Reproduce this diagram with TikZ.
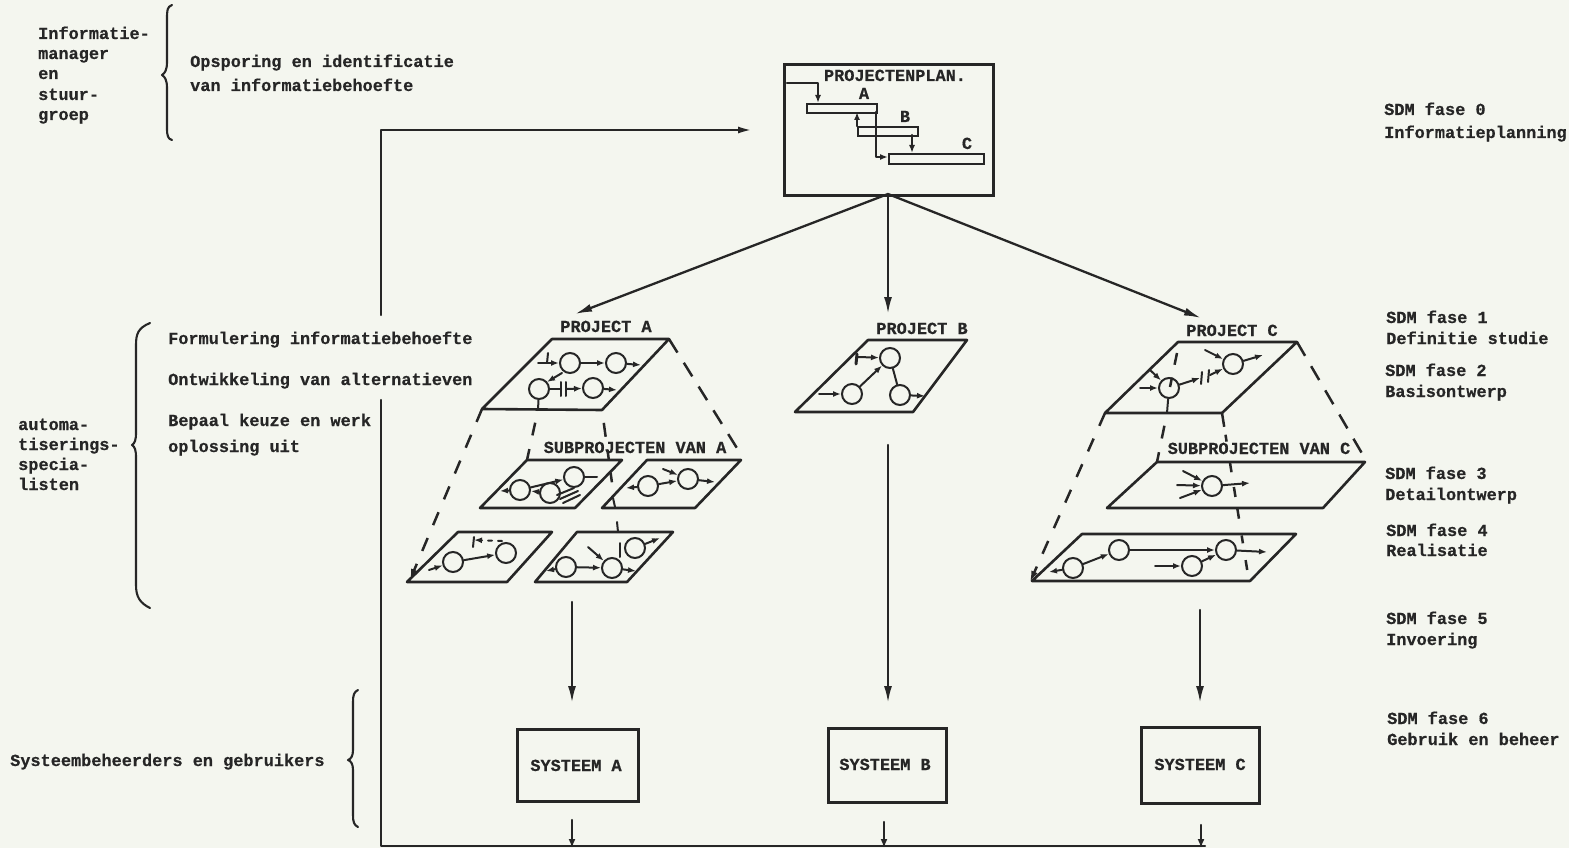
\documentclass[tikz,border=0pt]{standalone}
\usepackage{fontspec}
\setmainfont{Liberation Mono}[BoldFeatures={FakeBold=0.5}]
\usetikzlibrary{arrows.meta}
\definecolor{paper}{HTML}{F4F6EF}
\definecolor{ink}{HTML}{262626}
\tikzset{
  txt/.style={anchor=west,inner sep=0pt,text height=15pt,text depth=3pt,text=ink,font=\fontsize{16.9}{20}\selectfont\bfseries},
  ctxt/.style={txt,anchor=center},
  ln/.style={draw=ink,line width=2.3pt,line cap=round,line join=round},
  thick box/.style={draw=ink,line width=2.8pt,inner sep=0pt,anchor=north west},
  bigarrow/.style={ln,-{Latex[length=17pt,width=8pt]}},
  smallarrow/.style={draw=ink,line width=2pt,line cap=round,-{Latex[length=8pt,width=6pt]}},
  planarrow/.style={draw=ink,line width=2.4pt,line cap=round,line join=round,-{Latex[length=8pt,width=6pt]}},
  plainl/.style={draw=ink,line width=2pt,line cap=round},
  plane/.style={draw=ink,line width=2.6pt,line join=round},
  dsh/.style={draw=ink,line width=2.5pt,dash pattern=on 16pt off 12pt},
  dshleft/.style={draw=ink,line width=2.5pt,dash pattern=on 14pt off 14pt,-{Latex[length=11pt,width=7pt]}},
  proc/.style={circle,draw=ink,line width=2pt,minimum size=20pt,inner sep=0pt,fill=none},
  brace/.style={draw=ink,line width=2.1pt,line cap=round,line join=round},
  innerleft/.style={draw=ink,line width=2.5pt,dash pattern=on 0pt off 13pt on 13pt off 14pt on 11pt off 100pt},
  innerrightA/.style={draw=ink,line width=2.5pt,dash pattern=on 0pt off 13pt on 14pt off 13pt on 10pt off 13pt on 10pt off 100pt},
  innerrightC/.style={draw=ink,line width=2.5pt,dash pattern=on 14pt off 8pt on 7pt off 21pt on 10pt off 15pt on 10pt off 12pt on 10pt off 17pt on 8pt off 17pt on 10pt off 100pt},
}
\begin{document}
\begin{tikzpicture}[x=1pt,y=-1pt]
\path[fill=paper,use as bounding box] (0,0) rectangle (1569,848);

% ---- left texts
\node[txt] (t1) at (38,33) {Informatie-};
\node[txt] (t2) at (38,53) {manager};
\node[txt] (t3) at (38,73) {en};
\node[txt] (t4) at (38,94) {stuur-};
\node[txt] (t5) at (38,114) {groep};
\node[txt] (t6) at (190,61) {Opsporing en identificatie};
\node[txt] (t7) at (190,85) {van informatiebehoefte};
\node[txt] (t8) at (168,338) {Formulering informatiebehoefte};
\node[txt] (t9) at (168,379) {Ontwikkeling van alternatieven};
\node[txt] (t10) at (168,420) {Bepaal keuze en werk};
\node[txt] (t11) at (168,446) {oplossing uit};
\node[txt] (t12) at (18,424) {automa-};
\node[txt] (t13) at (18,444) {tiserings-};
\node[txt] (t14) at (18,464) {specia-};
\node[txt] (t15) at (18,484) {listen};
\node[txt] (t16) at (10,760) {Systeembeheerders en gebruikers};

% ---- right texts
\node[txt] (r1) at (1384,109) {SDM fase 0};
\node[txt] (r2) at (1384,132) {Informatieplanning};
\node[txt] (r3) at (1386,317) {SDM fase 1};
\node[txt] (r4) at (1386,338) {Definitie studie};
\node[txt] (r5) at (1385,370) {SDM fase 2};
\node[txt] (r6) at (1385,391) {Basisontwerp};
\node[txt] (r7) at (1385,473) {SDM fase 3};
\node[txt] (r8) at (1385,494) {Detailontwerp};
\node[txt] (r9) at (1386,530) {SDM fase 4};
\node[txt] (r10) at (1386,550) {Realisatie};
\node[txt] (r11) at (1386,618) {SDM fase 5};
\node[txt] (r12) at (1386,639) {Invoering};
\node[txt] (r13) at (1387,718) {SDM fase 6};
\node[txt] (r14) at (1387,739) {Gebruik en beheer};

% ---- braces
\draw[brace] (172,5) .. controls (167,7) and (167,10) .. (167,20) -- (167,62) .. controls (167,70) and (165,73) .. (162,75) .. controls (165,77) and (167,80) .. (167,88) -- (167,128) .. controls (167,136) and (168,139) .. (172,140);
\draw[brace] (150,323) .. controls (138,328) and (136,334) .. (136,345) -- (136,432) .. controls (136,440) and (135,443) .. (132,445) .. controls (135,447) and (136,450) .. (136,458) -- (136,585) .. controls (136,597) and (140,603) .. (150,608);
\draw[brace] (358,690) .. controls (354,692) and (353,695) .. (353,702) -- (353,750) .. controls (353,756) and (351,759) .. (348,760) .. controls (351,761) and (353,764) .. (353,770) -- (353,815) .. controls (353,822) and (354,825) .. (358,827);

% ---- projectenplan
\node[thick box,minimum width=209pt,minimum height=131pt] (plan) at (783,63) {};
\node[ctxt] (plantitle) at (895,75) {PROJECTENPLAN.};
\node[thick box,line width=2.4pt,minimum width=70pt,minimum height=9pt] (barA) at (806,103) {};
\node[thick box,line width=2.4pt,minimum width=60pt,minimum height=9pt] (barB) at (857,126) {};
\node[thick box,line width=2.4pt,minimum width=95pt,minimum height=10pt] (barC) at (888,153) {};
\node[ctxt] (lA) at (864,93) {A};
\node[ctxt] (lB) at (905,116) {B};
\node[ctxt] (lC) at (967,143) {C};
\coordinate (in0) at (787,83);
\coordinate (in1) at (818,83);
\coordinate (in2) at (818,103);
\draw[planarrow] (in0) -- (in1) -- (in2);
\coordinate (ab0) at (857,126);
\coordinate (ab1) at (857,112);
\draw[planarrow] (ab0) -- (ab1);
\coordinate (bc0) at (912,135);
\coordinate (bc1) at (912,153);
\draw[planarrow] (bc0) -- (bc1);
\coordinate (ac0) at (876,112);
\coordinate (ac1) at (876,157);
\coordinate (ac2) at (888,157);
\draw[planarrow] (ac0) -- (ac1) -- (ac2);

% ---- project arrows from plan
\coordinate (pb) at (888,194);
\coordinate (toA) at (575,314);
\coordinate (toB) at (888,314);
\coordinate (toC) at (1201,318);
\draw[bigarrow] (pb) -- (toA);
\draw[bigarrow] (pb) -- (toB);
\draw[bigarrow] (pb) -- (toC);

% ---- feedback line
\coordinate (fb1) at (752,130);
\coordinate (fb2) at (381,130);
\coordinate (fb3) at (381,315);
\coordinate (fb4) at (381,400);
\coordinate (fb5) at (381,846);
\coordinate (fb6) at (1205,846);
\draw[ln,-{Latex[length=14pt,width=7pt]}] (fb3) -- (fb2) -- (fb1);
\draw[ln] (fb4) -- (fb5) -- (fb6);

% ---- project A
\coordinate (a1) at (552,339); \coordinate (a2) at (669,339);
\coordinate (a3) at (602,410); \coordinate (a4) at (482,409);
\draw[plane] (a1) -- (a2) -- (a3) -- (a4) -- cycle;
\node[ctxt] (tA) at (606,326) {PROJECT A};
\node[proc] (ca1) at (570,363) {};
\node[proc] (ca2) at (616,363) {};
\node[proc] (ca3) at (539,389) {};
\node[proc] (ca4) at (593,388) {};
\coordinate (sa1) at (538,363); \coordinate (sa2) at (641,365);
\coordinate (sa3) at (548,353); \coordinate (sa4) at (547,363);
\coordinate (sa5) at (547,382); \coordinate (sa6) at (562,373);
\coordinate (sa7) at (561,389); \coordinate (sa8) at (567,389);
\coordinate (sa9) at (617,390); \coordinate (sa10) at (538,410);
\coordinate (b1a) at (561,382); \coordinate (b1b) at (561,396);
\coordinate (b2a) at (566,382); \coordinate (b2b) at (566,396);
\draw[smallarrow] (sa1) -- (ca1);
\draw[smallarrow] (ca1) -- (ca2);
\draw[smallarrow] (ca2) -- (sa2);
\draw[plainl] (sa3) -- (sa4);
\draw[smallarrow] (sa6) -- (sa5);
\draw[plainl] (ca3) -- (sa7);
\draw[plainl] (b1a) -- (b1b);
\draw[plainl] (b2a) -- (b2b);
\draw[smallarrow] (sa8) -- (ca4);
\draw[smallarrow] (ca4) -- (sa9);
\draw[plainl] (ca3) -- (sa10);

% ---- sub planes of A
\node[ctxt] (tSA) at (635,447) {SUBPROJECTEN VAN A};
\coordinate (s1a) at (527,460); \coordinate (s1b) at (622,460);
\coordinate (s1c) at (575,508); \coordinate (s1d) at (480,508);
\draw[plane] (s1a) -- (s1b) -- (s1c) -- (s1d) -- cycle;
\coordinate (s2a) at (647,460); \coordinate (s2b) at (741,460);
\coordinate (s2c) at (695,508); \coordinate (s2d) at (602,508);
\draw[plane] (s2a) -- (s2b) -- (s2c) -- (s2d) -- cycle;
\coordinate (s3a) at (458,532); \coordinate (s3b) at (552,532);
\coordinate (s3c) at (507,582); \coordinate (s3d) at (407,582);
\draw[plane] (s3a) -- (s3b) -- (s3c) -- (s3d) -- cycle;
\coordinate (s4a) at (577,532); \coordinate (s4b) at (673,532);
\coordinate (s4c) at (627,582); \coordinate (s4d) at (535,582);
\draw[plane] (s4a) -- (s4b) -- (s4c) -- (s4d) -- cycle;

% sub 1
\node[proc] (c11) at (520,490) {};
\node[proc] (c12) at (550,493) {};
\node[proc] (c13) at (574,477) {};
\coordinate (e11) at (500,491); \coordinate (e13) at (597,477);
\coordinate (e14a) at (560,499); \coordinate (e14b) at (578,491);
\coordinate (e15a) at (563,503); \coordinate (e15b) at (580,495);
\coordinate (e16a) at (557,495); \coordinate (e16b) at (574,488);
\draw[smallarrow] (c11) -- (c13);
\draw[smallarrow] (c11) -- (e11);
\draw[smallarrow] (c12) -- (c11);
\draw[plainl] (c13) -- (e13);
\draw[plainl] (e14a) -- (e14b);
\draw[plainl] (e15a) -- (e15b);
\draw[plainl] (e16a) -- (e16b);

% sub 2
\node[proc] (c21) at (648,486) {};
\node[proc] (c22) at (688,479) {};
\coordinate (e21) at (626,488); \coordinate (e22) at (663,469);
\coordinate (e23) at (715,482);
\draw[smallarrow] (c21) -- (e21);
\draw[smallarrow] (c21) -- (c22);
\draw[smallarrow] (e22) -- (c22);
\draw[smallarrow] (c22) -- (e23);

% sub 3
\node[proc] (c31) at (453,562) {};
\node[proc] (c32) at (506,553) {};
\coordinate (e31) at (429,570); \coordinate (e32) at (502,541);
\coordinate (e33) at (474,540);
\coordinate (e34) at (473,547); \coordinate (e35) at (474,537);
\draw[smallarrow] (e31) -- (c31);
\draw[smallarrow] (c31) -- (c32);
\draw[smallarrow,dash pattern=on 4pt off 6pt] (e32) -- (e33);
\draw[plainl] (e34) -- (e35);

% sub 4
\node[proc] (c41) at (566,567) {};
\node[proc] (c42) at (612,568) {};
\node[proc] (c43) at (635,548) {};
\coordinate (e41) at (546,571); \coordinate (e42) at (588,547);
\coordinate (e43) at (660,538); \coordinate (e44) at (636,571);
\coordinate (e45) at (620,543); \coordinate (e46) at (620,557);
\draw[smallarrow] (c41) -- (e41);
\draw[smallarrow] (c41) -- (c42);
\draw[smallarrow] (e42) -- (c42);
\draw[smallarrow] (c43) -- (e43);
\draw[smallarrow] (c42) -- (e44);
\draw[plainl] (e45) -- (e46);

% dashed guides A
\coordinate (da1) at (410,580);
\coordinate (da2) at (740,453);
\coordinate (da3) at (527,460);
\coordinate (da4) at (612,483);
\coordinate (da5) at (613,498);
\coordinate (da6) at (615,507);
\coordinate (da7) at (617,522);
\coordinate (da8) at (618,532);
\draw[dshleft] (a4) -- (da1);
\draw[dsh] (a2) -- (da2);
\draw[innerleft] (sa10) -- (da3);
\draw[innerrightA] (a3) -- (da4);
\draw[plainl] (da5) -- (da6);
\draw[plainl] (da7) -- (da8);

% ---- project B
\coordinate (b1) at (868,340); \coordinate (b2) at (967,340);
\coordinate (b3) at (913,412); \coordinate (b4) at (795,412);
\draw[plane] (b1) -- (b2) -- (b3) -- (b4) -- cycle;
\node[ctxt] (tB) at (922,328) {PROJECT B};
\node[proc] (cb1) at (890,358) {};
\node[proc] (cb2) at (852,394) {};
\node[proc] (cb3) at (900,395) {};
\coordinate (eb1) at (819,394); \coordinate (eb2) at (925,396);
\coordinate (eb3) at (858,357); \coordinate (eb4) at (857,354);
\coordinate (eb5) at (856,364);
\draw[smallarrow] (eb1) -- (cb2);
\draw[smallarrow] (cb2) -- (cb1);
\draw[plainl] (cb1) -- (cb3);
\draw[smallarrow] (cb3) -- (eb2);
\draw[smallarrow] (eb3) -- (cb1);
\draw[ln,line width=3pt] (eb4) -- (eb5);

% ---- project C
\coordinate (c1) at (1178,342); \coordinate (c2) at (1297,342);
\coordinate (c3) at (1222,413); \coordinate (c4) at (1105,413);
\draw[plane] (c1) -- (c2) -- (c3) -- (c4) -- cycle;
\node[ctxt] (tC) at (1232,330) {PROJECT C};
\node[proc] (cc1) at (1169,388) {};
\node[proc] (cc2) at (1233,364) {};
\coordinate (ec1) at (1140,388); \coordinate (ec2) at (1150,370);
\coordinate (ec3) at (1200,378); \coordinate (ec4) at (1205,350);
\coordinate (ec5) at (1263,355); \coordinate (ec6) at (1210,375);
\coordinate (ec7) at (1202,372); \coordinate (ec8) at (1201,384);
\coordinate (ec9) at (1209,370); \coordinate (ec10) at (1208,382);
\coordinate (ec11) at (1167,413);
\coordinate (ec12) at (1177,353); \coordinate (ec13) at (1170,387);
\draw[smallarrow] (ec1) -- (cc1);
\draw[smallarrow] (ec2) -- (cc1);
\draw[smallarrow] (cc1) -- (ec3);
\draw[plainl] (ec7) -- (ec8);
\draw[plainl] (ec9) -- (ec10);
\draw[smallarrow] (ec6) -- (cc2);
\draw[smallarrow] (ec4) -- (cc2);
\draw[smallarrow] (cc2) -- (ec5);
\draw[plainl] (cc1) -- (ec11);
\draw[dsh,dash pattern=on 12pt off 13pt] (ec12) -- (ec13);

% ---- sub planes of C
\node[ctxt] (tSC) at (1259,448) {SUBPROJECTEN VAN C};
\coordinate (d1a) at (1157,462); \coordinate (d1b) at (1365,462);
\coordinate (d1c) at (1323,508); \coordinate (d1d) at (1107,508);
\draw[plane] (d1a) -- (d1b) -- (d1c) -- (d1d) -- cycle;
\coordinate (d2a) at (1082,534); \coordinate (d2b) at (1296,534);
\coordinate (d2c) at (1250,581); \coordinate (d2d) at (1032,581);
\draw[plane] (d2a) -- (d2b) -- (d2c) -- (d2d) -- cycle;
\node[proc] (cd1) at (1212,486) {};
\coordinate (ed1) at (1183,471); \coordinate (ed2) at (1177,485);
\coordinate (ed3) at (1180,498); \coordinate (ed4) at (1250,483);
\draw[smallarrow] (ed1) -- (cd1);
\draw[smallarrow] (ed2) -- (cd1);
\draw[smallarrow] (ed3) -- (cd1);
\draw[smallarrow] (cd1) -- (ed4);
\node[proc] (ce1) at (1073,568) {};
\node[proc] (ce2) at (1119,550) {};
\node[proc] (ce3) at (1192,566) {};
\node[proc] (ce4) at (1226,550) {};
\coordinate (ee1) at (1049,572); \coordinate (ee2) at (1155,566);
\coordinate (ee3) at (1267,552);
\draw[smallarrow] (ce1) -- (ee1);
\draw[smallarrow] (ce1) -- (ce2);
\draw[smallarrow] (ce2) -- (ce4);
\draw[smallarrow] (ee2) -- (ce3);
\draw[smallarrow] (ce3) -- (ce4);
\draw[smallarrow] (ce4) -- (ee3);

% dashed guides C
\coordinate (dc1) at (1030,582);
\coordinate (dc2) at (1367,462);
\coordinate (dc3) at (1157,462);
\coordinate (dc4) at (1248,575);
\draw[dshleft] (c4) -- (dc1);
\draw[dsh] (c2) -- (dc2);
\draw[innerleft] (ec11) -- (dc3);
\draw[innerrightC] (c3) -- (dc4);

% ---- systems
\node[thick box,minimum width=121pt,minimum height=72pt] (sysA) at (516,728) {};
\node[thick box,minimum width=118pt,minimum height=74pt] (sysB) at (827,727) {};
\node[thick box,minimum width=118pt,minimum height=76pt] (sysC) at (1140,726) {};
\node[ctxt] (tsA) at (576,765) {SYSTEEM A};
\node[ctxt] (tsB) at (885,764) {SYSTEEM B};
\node[ctxt] (tsC) at (1200,764) {SYSTEEM C};
\coordinate (ia0) at (572,602); \coordinate (ia1) at (572,703);
\coordinate (ib0) at (888,445); \coordinate (ib1) at (888,703);
\coordinate (ic0) at (1200,610); \coordinate (ic1) at (1200,703);
\draw[bigarrow] (ia0) -- (ia1);
\draw[bigarrow] (ib0) -- (ib1);
\draw[bigarrow] (ic0) -- (ic1);
\coordinate (oa0) at (572,820); \coordinate (oa1) at (572,848);
\coordinate (ob0) at (884,822); \coordinate (ob1) at (884,848);
\coordinate (oc0) at (1201,825); \coordinate (oc1) at (1201,848);
\draw[ln,-{Latex[length=9pt,width=7pt]}] (oa0) -- (oa1);
\draw[ln,-{Latex[length=9pt,width=7pt]}] (ob0) -- (ob1);
\draw[ln,-{Latex[length=9pt,width=7pt]}] (oc0) -- (oc1);
\end{tikzpicture}
\end{document}
